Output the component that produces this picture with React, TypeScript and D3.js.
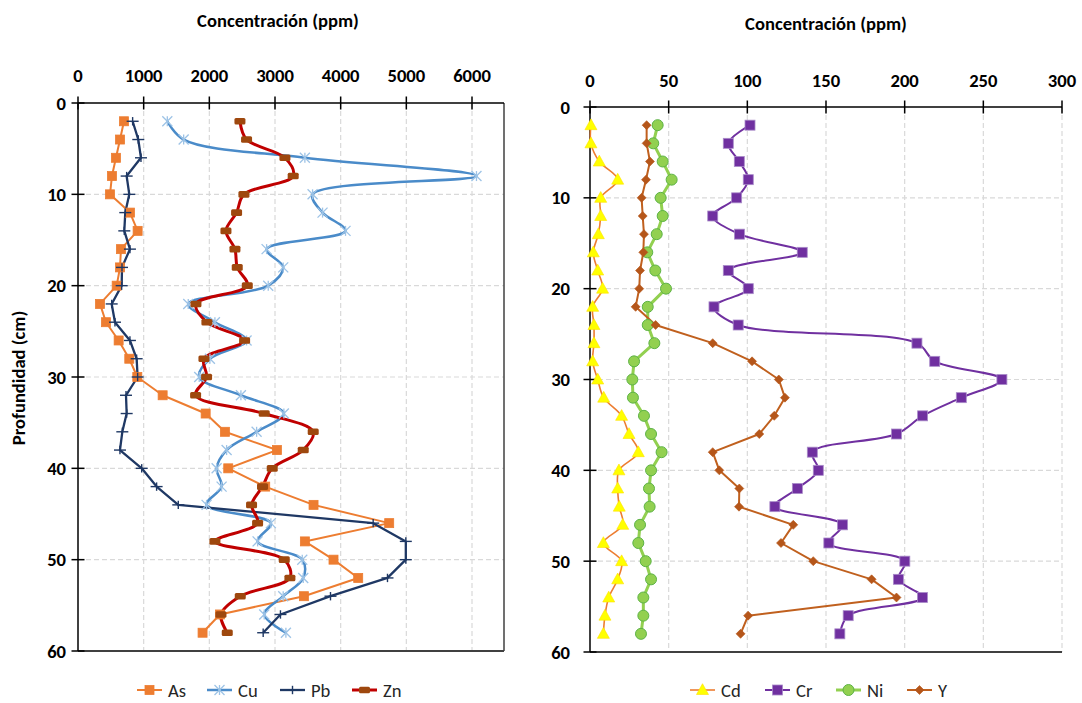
import React from "react";
import * as d3 from "d3";

const depths = [2, 4, 6, 8, 10, 12, 14, 16, 18, 20, 22, 24, 26, 28, 30, 32, 34, 36, 38, 40, 42, 44, 46, 48, 50, 52, 54, 56, 58];

const asVals = [700, 640, 578, 517, 487, 791, 908, 654, 640, 589, 335, 426, 619, 781, 903, 1289, 1944, 2237, 3029, 2288, 2851, 3587, 4739, 3455, 3891, 4267, 3440, 2161, 1897];
const cuVals = [1360, 1609, 3455, 6068, 3572, 3724, 4074, 2872, 3125, 2897, 1679, 2085, 2567, 2009, 1846, 2481, 3135, 2720, 2263, 2111, 2187, 1958, 2937, 2735, 3415, 3430, 3125, 2836, 3166];
const pbVals = [832, 918, 959, 741, 781, 720, 705, 791, 670, 665, 513, 563, 791, 893, 908, 731, 741, 675, 639, 970, 1197, 1527, 4495, 4992, 4992, 4713, 3845, 3083, 2820];
const znVals = [2466, 2567, 3151, 3277, 2527, 2415, 2253, 2390, 2425, 2578, 1796, 1963, 2537, 1918, 1958, 1791, 2836, 3582, 3430, 2958, 2810, 2643, 2735, 2085, 3141, 3227, 2471, 2177, 2273];

const cdVals = [0.6, 0.6, 5.9, 17.6, 6.8, 6.8, 5.3, 2.1, 4.9, 8, 1.7, 2.5, 2.5, 1.7, 4.9, 8.7, 20.1, 24.8, 30.7, 18.4, 17.6, 18.6, 20.8, 8.5, 20.1, 17.6, 11.9, 9.5, 8.5];
const crVals = [101.7, 87.9, 94.9, 100.6, 93.2, 78, 95, 134.9, 87.9, 100.6, 78.8, 94.2, 207.8, 219.1, 261.8, 236, 211.4, 194.8, 141.3, 145.1, 131.8, 117.5, 160.5, 151.8, 200.1, 196, 211.3, 164.1, 158.8];
const niVals = [43, 40.2, 46.2, 51.9, 44.9, 46.2, 42.4, 36.4, 41.5, 48.3, 36.7, 36.7, 40.9, 28, 26.9, 27.3, 34.3, 38.8, 45.5, 38.8, 37.5, 37.9, 31.8, 30.7, 35.4, 38.8, 33.9, 33.9, 32.4];
const yVals = [36, 36, 38.1, 35.6, 32.8, 33.5, 34.3, 33.9, 31.8, 31.3, 29, 41.7, 78, 103, 120, 123.9, 117.1, 107.6, 78, 82.2, 94.9, 94.7, 129.2, 121.4, 141.9, 179, 194.8, 100.5, 95.7];

const leftXTicks = [0, 1000, 2000, 3000, 4000, 5000, 6000];
const rightXTicks = [0, 50, 100, 150, 200, 250, 300];
const depthTicks = [0, 10, 20, 30, 40, 50, 60];

const leftNames = ["As", "Cu", "Pb", "Zn"];
const rightNames = ["Cd", "Cr", "Ni", "Y"];
const axisTitle = "Concentración (ppm)";
const depthTitle = "Profundidad (cm)";

const FONT = "Carlito, Calibri, Lato, 'Open Sans', sans-serif";
const FS = 18.6;

type MarkerType = "square" | "star" | "plus" | "dash" | "triangle" | "circle" | "diamond";

interface SeriesDef {
  name: string;
  values: number[];
  color: string;
  width: number;
  smooth: boolean;
  marker: MarkerType;
  mFill: string;
  mStroke: string;
  size: number;
}

function Marker({ type, x, y, fill, stroke, size }: { type: MarkerType; x: number; y: number; fill: string; stroke: string; size: number }) {
  const h = size / 2;
  switch (type) {
    case "square":
      return <rect x={x - h} y={y - h} width={size} height={size} fill={fill} stroke={stroke} strokeWidth={0.8} />;
    case "star":
      return (
        <g stroke={stroke} strokeWidth={1.3}>
          <line x1={x} y1={y - h} x2={x} y2={y + h} />
          <line x1={x - h} y1={y - h} x2={x + h} y2={y + h} />
          <line x1={x - h} y1={y + h} x2={x + h} y2={y - h} />
        </g>
      );
    case "plus":
      return (
        <g stroke={stroke} strokeWidth={1.4}>
          <line x1={x - h} y1={y} x2={x + h} y2={y} />
          <line x1={x} y1={y - h * 0.7} x2={x} y2={y + h * 0.7} />
        </g>
      );
    case "dash":
      return <rect x={x - h} y={y - 3.3} width={size} height={6.6} rx={1.5} fill={fill} />;
    case "triangle":
      return <path d={`M${x},${y - h * 1.05}L${x + h},${y + h * 0.75}L${x - h},${y + h * 0.75}Z`} fill={fill} stroke={stroke} strokeWidth={0.6} />;
    case "circle":
      return <circle cx={x} cy={y} r={h} fill={fill} stroke={stroke} strokeWidth={1} />;
    case "diamond":
      return <path d={`M${x},${y - h}L${x + h},${y}L${x},${y + h}L${x - h},${y}Z`} fill={fill} stroke={stroke} strokeWidth={0.6} />;
  }
  return null;
}

interface PanelProps {
  x0: number;
  x1: number;
  xMaxVal: number;
  xEnd: number;
  y0: number;
  y1: number;
  xTicks: number[];
  series: SeriesDef[];
  titleX: number;
  titleY: number;
  xLabelY: number;
  yLabelRight: number;
  rightBorder: boolean;
  legendX: number[];
  legendY: number;
}

function Panel(p: PanelProps) {
  const xs = d3.scaleLinear().domain([0, p.xMaxVal]).range([p.x0, p.x1]);
  const ys = d3.scaleLinear().domain([0, 60]).range([p.y0, p.y1]);
  const grid = "#d9d9d9";
  return (
    <g>
      {p.xTicks.filter((t) => t > 0).map((t) => (
        <line key={"gx" + t} x1={xs(t)} x2={xs(t)} y1={p.y0} y2={p.y1} stroke={grid} strokeWidth={1.2} strokeDasharray="5,3" />
      ))}
      {depthTicks.filter((t) => t > 0 && t < 60).map((t) => (
        <line key={"gy" + t} x1={p.x0} x2={p.xEnd} y1={ys(t)} y2={ys(t)} stroke={grid} strokeWidth={1.2} strokeDasharray="5,3" />
      ))}
      <line x1={p.x0} x2={p.xEnd} y1={p.y1} y2={p.y1} stroke="#404040" strokeWidth={2} />
      {p.rightBorder && <line x1={p.xEnd} x2={p.xEnd} y1={p.y0} y2={p.y1} stroke="#404040" strokeWidth={1.5} />}
      <line x1={p.x0} x2={p.xEnd} y1={p.y0} y2={p.y0} stroke="#000" strokeWidth={1.5} />
      <line x1={p.x0} x2={p.x0} y1={p.y0} y2={p.y1} stroke="#000" strokeWidth={1.5} />
      {p.xTicks.map((t) => (
        <g key={"tx" + t}>
          <line x1={xs(t)} x2={xs(t)} y1={p.y0 - 6.5} y2={p.y0 + 6.5} stroke="#000" strokeWidth={1.5} />
          <text x={xs(t)} y={p.xLabelY} textAnchor="middle" dominantBaseline="central" fontFamily={FONT} fontWeight="bold" fontSize={FS}>{t}</text>
        </g>
      ))}
      {depthTicks.map((t) => (
        <g key={"ty" + t}>
          <line x1={p.x0 - 6.5} x2={p.x0 + 6.5} y1={ys(t)} y2={ys(t)} stroke="#000" strokeWidth={1.5} />
          <text x={p.yLabelRight} y={ys(t)} textAnchor="end" dominantBaseline="central" fontFamily={FONT} fontWeight="bold" fontSize={FS}>{t}</text>
        </g>
      ))}
      <text x={p.titleX} y={p.titleY} textAnchor="middle" dominantBaseline="central" fontFamily={FONT} fontWeight="bold" fontSize={FS}>{axisTitle}</text>
      {p.series.map((s) => {
        const gen = d3
          .line<number>()
          .x((v) => xs(v))
          .y((_, i) => ys(depths[i]))
          .curve(s.smooth ? d3.curveCatmullRom.alpha(0.5) : d3.curveLinear);
        return <path key={"l" + s.name} d={gen(s.values) || ""} fill="none" stroke={s.color} strokeWidth={s.width} strokeLinejoin="round" />;
      })}
      {p.series.map((s) => (
        <g key={"m" + s.name}>
          {s.values.map((v, i) => (
            <Marker key={i} type={s.marker} x={xs(v)} y={ys(depths[i])} fill={s.mFill} stroke={s.mStroke} size={s.size} />
          ))}
        </g>
      ))}
      {p.series.map((s, i) => {
        const lx = p.legendX[i];
        return (
          <g key={"lg" + s.name}>
            <line x1={lx} x2={lx + 25} y1={p.legendY} y2={p.legendY} stroke={s.color} strokeWidth={s.width} />
            <Marker type={s.marker} x={lx + 12.5} y={p.legendY} fill={s.mFill} stroke={s.mStroke} size={s.size} />
            <text x={lx + 31} y={p.legendY} dominantBaseline="central" fontFamily={FONT} fontSize={FS} fill="#262626">{s.name}</text>
          </g>
        );
      })}
    </g>
  );
}

export default function App() {
  const leftSeries: SeriesDef[] = [
    { name: leftNames[0], values: asVals, color: "#ED7D31", width: 2, smooth: false, marker: "square", mFill: "#ED7D31", mStroke: "#ED7D31", size: 9 },
    { name: leftNames[1], values: cuVals, color: "#4A8BC9", width: 2.5, smooth: true, marker: "star", mFill: "none", mStroke: "#9DC3E6", size: 10 },
    { name: leftNames[2], values: pbVals, color: "#1F3864", width: 2.3, smooth: false, marker: "plus", mFill: "none", mStroke: "#1F3864", size: 12 },
    { name: leftNames[3], values: znVals, color: "#C00000", width: 3, smooth: true, marker: "dash", mFill: "#9E480E", mStroke: "#9E480E", size: 11 },
  ];
  const rightSeries: SeriesDef[] = [
    { name: rightNames[0], values: cdVals, color: "#ED7D31", width: 1.6, smooth: true, marker: "triangle", mFill: "#FFFF00", mStroke: "#FFE000", size: 12 },
    { name: rightNames[1], values: crVals, color: "#7030A0", width: 2, smooth: true, marker: "square", mFill: "#7030A0", mStroke: "#A98BC9", size: 10 },
    { name: rightNames[2], values: niVals, color: "#92D050", width: 3, smooth: false, marker: "circle", mFill: "#92D050", mStroke: "#5DB346", size: 11 },
    { name: rightNames[3], values: yVals, color: "#C0601E", width: 2, smooth: false, marker: "diamond", mFill: "#B5561A", mStroke: "#B5561A", size: 9 },
  ];
  return (
    <div style={{ position: "absolute", left: 0, top: 0 }}>
      <svg width={1082} height={703} style={{ display: "block", background: "#fff" }}>
        <Panel
          x0={78}
          x1={472}
          xMaxVal={6000}
          xEnd={504}
          y0={103}
          y1={651}
          xTicks={leftXTicks}
          series={leftSeries}
          titleX={278}
          titleY={20}
          xLabelY={75}
          yLabelRight={66}
          rightBorder={true}
          legendX={[137, 207, 280, 352]}
          legendY={690}
        />
        <Panel
          x0={590}
          x1={1062}
          xMaxVal={300}
          xEnd={1062}
          y0={107}
          y1={652}
          xTicks={rightXTicks}
          series={rightSeries}
          titleX={826}
          titleY={23}
          xLabelY={80}
          yLabelRight={570}
          rightBorder={false}
          legendX={[690, 765, 836, 907]}
          legendY={690}
        />
        <text
          transform="translate(18,378) rotate(-90)"
          textAnchor="middle"
          dominantBaseline="central"
          fontFamily={FONT}
          fontWeight="bold"
          fontSize={FS}
        >
          {depthTitle}
        </text>
      </svg>
    </div>
  );
}
